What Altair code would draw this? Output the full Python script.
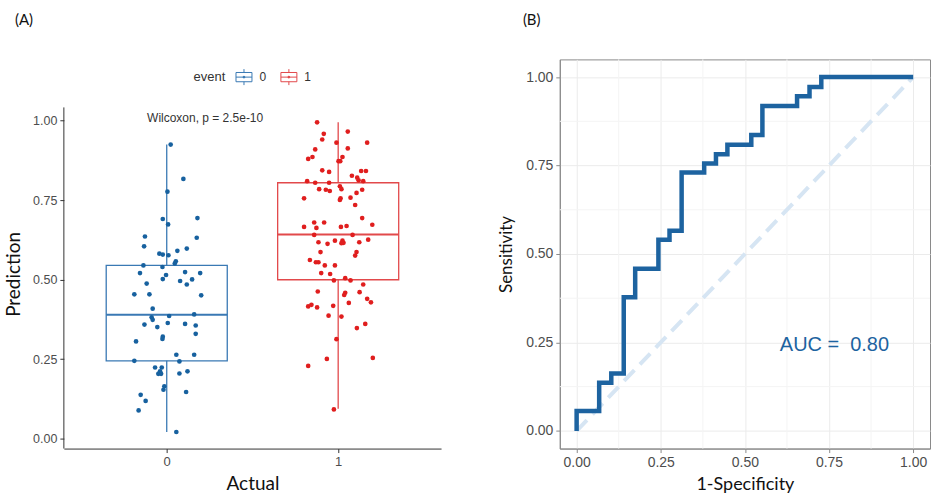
import altair as alt
import pandas as pd

# ---------------- Panel A data ----------------
pred0 = [0.925, 0.817, 0.777, 0.691, 0.674, 0.694, 0.636, 0.605, 0.632, 0.598,
         0.582, 0.579, 0.577, 0.591, 0.558, 0.551, 0.545, 0.540, 0.521, 0.515,
         0.524, 0.521, 0.501, 0.502, 0.496, 0.485, 0.488, 0.454, 0.454, 0.451,
         0.409, 0.382, 0.374, 0.386, 0.391, 0.359, 0.351, 0.364, 0.361, 0.356,
         0.330, 0.321, 0.314, 0.306, 0.264, 0.264, 0.245, 0.243, 0.224, 0.224,
         0.212, 0.204, 0.204, 0.205, 0.212, 0.165, 0.154, 0.147, 0.138, 0.119,
         0.089, 0.021]
jit0 = [0.023, 0.097, 0.004, -0.023, 0.008, 0.179, -0.127, -0.132, 0.175, 0.117,
        -0.043, -0.023, 0.010, 0.062, 0.053, 0.047, -0.136, -0.025, -0.156, -0.004,
        0.107, 0.195, 0.148, -0.023, 0.078, 0.117, -0.117, -0.189, -0.101, 0.201,
        -0.082, -0.088, -0.082, 0.014, 0.160, -0.130, -0.055, 0.006, 0.107, 0.169,
        0.169, -0.023, -0.025, -0.179, 0.056, 0.160, -0.189, 0.074, -0.068, -0.029,
        -0.039, -0.049, -0.033, 0.074, 0.121, -0.014, -0.019, 0.113, -0.152, -0.123,
        -0.164, 0.056]
pred1 = [0.995, 0.959, 0.966, 0.941, 0.931, 0.931, 0.910, 0.913, 0.880, 0.886,
         0.886, 0.873, 0.873, 0.844, 0.839, 0.842, 0.842, 0.827, 0.821, 0.813,
         0.810, 0.810, 0.805, 0.805, 0.794, 0.785, 0.785, 0.783, 0.779, 0.783,
         0.773, 0.756, 0.756, 0.751, 0.758, 0.735, 0.694, 0.680, 0.680, 0.666,
         0.663, 0.666, 0.669, 0.673, 0.641, 0.641, 0.626, 0.618, 0.613, 0.623,
         0.623, 0.616, 0.615, 0.618, 0.587, 0.587, 0.576, 0.562, 0.555, 0.555,
         0.545, 0.545, 0.521, 0.518, 0.498, 0.505, 0.498, 0.485, 0.463, 0.459,
         0.452, 0.461, 0.440, 0.429, 0.416, 0.421, 0.413, 0.418, 0.427, 0.387,
         0.384, 0.361, 0.348, 0.313, 0.251, 0.229, 0.254, 0.092]
jit1 = [-0.123, -0.084, 0.056, -0.093, -0.010, 0.169, -0.134, 0.056, -0.175, -0.150,
        0.025, 0.012, 0.002, -0.093, -0.053, 0.134, 0.162, 0.080, 0.111, 0.119,
        0.146, -0.181, -0.134, -0.053, 0.010, 0.019, -0.111, -0.072, -0.049, 0.140,
        0.107, -0.199, 0.014, 0.010, 0.072, 0.099, 0.140, -0.140, -0.082, -0.199,
        -0.127, 0.016, 0.049, 0.199, -0.140, 0.084, 0.175, -0.115, -0.062, -0.019,
        0.025, 0.031, 0.019, 0.123, -0.103, 0.107, 0.099, -0.165, -0.130, -0.115,
        -0.078, -0.019, -0.099, -0.047, -0.025, 0.041, 0.072, 0.146, -0.119, 0.041,
        0.035, 0.125, 0.169, 0.191, -0.175, -0.156, -0.123, -0.029, 0.062, -0.056,
        0.019, 0.158, 0.109, -0.010, -0.066, -0.175, 0.202, -0.025]

box_event = ["0", "1"]
box_pos = [0, 1]
box_lo = [0.021, 0.094]
box_q1 = [0.245, 0.500]
box_med = [0.390, 0.642]
box_q3 = [0.545, 0.805]
box_hi = [0.925, 0.995]

wilcox_text = ["Wilcoxon, p = 2.5e-10"]
panel_labels = ["(A)", "(B)"]

# ---------------- Panel B data ----------------
roc_fpr = [0.0, 0.0, 0.067, 0.103, 0.140, 0.174, 0.243, 0.276, 0.312, 0.379,
           0.414, 0.448, 0.519, 0.552, 0.655, 0.692, 0.727, 1.0]
roc_tpr = [0.0, 0.056, 0.136, 0.162, 0.378, 0.458, 0.540, 0.566, 0.730, 0.756,
           0.782, 0.809, 0.836, 0.918, 0.946, 0.972, 1.0, 1.0]
diag_x = [0.0, 1.0]
diag_y = [0.0, 1.0]
minor_breaks = [0.125, 0.375, 0.625, 0.875]
auc_text = ["AUC =\u00a0 0.80"]

BLUE_PT = "#17619f"
RED_PT = "#e01e1e"
BLUE_BOX = "#3a79b4"
RED_BOX = "#e2494b"
ROC_BLUE = "#1d63a0"
TICK_FONT = "Liberation Sans"
TITLE_FONT = "Lato"

pts = pd.DataFrame({
    "event": ["0"] * len(pred0) + ["1"] * len(pred1),
    "pos": [0] * len(pred0) + [1] * len(pred1),
    "jitter": jit0 + jit1,
    "prediction": pred0 + pred1,
})
boxes = pd.DataFrame({"event": box_event, "pos": box_pos, "lo": box_lo, "q1": box_q1,
                      "med": box_med, "q3": box_q3, "hi": box_hi})

HALF = 0.353
Y_LO, Y_HI = -0.031, 1.042
xscale = alt.Scale(domain=[-0.6, 1.6], nice=False, zero=False)
# the plot area extends above the panel so both panels share a top edge
yscale = alt.Scale(domain=[Y_LO, 1.193], nice=False, zero=False)

xaxis = alt.Axis(values=[0, 1], format="d", title="Actual", grid=False,
                 labelFont=TICK_FONT, labelFontSize=13, labelColor="#4d4d4d",
                 titleFont=TITLE_FONT, titleFontSize=19, titleFontWeight="normal",
                 titleColor="#111111", titlePadding=6, tickSize=4,
                 domainColor="#333333", tickColor="#333333", labelPadding=3)
yaxis = alt.Axis(values=[0, 0.25, 0.5, 0.75, 1.0], format=".2f", title="Prediction", grid=False,
                 labelFont=TICK_FONT, labelFontSize=12.5, labelColor="#4d4d4d",
                 titleFont=TITLE_FONT, titleFontSize=19, titleFontWeight="normal",
                 titleColor="#111111", titlePadding=9, tickSize=4, domain=False,
                 tickColor="#333333", labelPadding=3, titleY=215)

# box-plot key glyph drawn from open line segments (no area to fill) plus a centre dot
box_symbol = ("M-1,-0.58H1 M1,-0.58V0.58 M1,0.58H-1 M-1,0.58V-0.58 "
              "M0,-1V-0.58 M0,0.58V1 M-1,0H1 "
              "M-0.12,0A0.12,0.12,0,1,0,0.12,0A0.12,0.12,0,1,0,-0.12,0")
leg = alt.Legend(orient="none", legendX=130, legendY=9, direction="horizontal",
                 title="event", titleOrient="left", titleFont=TICK_FONT, titleFontSize=13,
                 titleFontWeight="normal", titleColor="#333333", titlePadding=10,
                 labelFont=TICK_FONT, labelFontSize=12, labelColor="#333333",
                 symbolType=box_symbol, symbolSize=256, symbolStrokeWidth=1,
                 symbolFillColor="transparent",
                 labelOffset=7, columnPadding=12)
box_scale = alt.Scale(domain=["0", "1"], range=[BLUE_BOX, RED_BOX])
box_color = alt.Color("event:N", scale=box_scale, legend=leg)

base_box = alt.Chart(boxes).transform_calculate(
    xl=f"datum.pos - {HALF}", xr=f"datum.pos + {HALF}")

box = base_box.mark_bar(filled=False, strokeWidth=1.3).encode(
    x=alt.X("xl:Q", scale=xscale, axis=xaxis), x2="xr:Q",
    y=alt.Y("q1:Q", scale=yscale, axis=yaxis), y2="q3:Q",
    color=box_color,
)
whisk_lo = base_box.mark_rule(strokeWidth=1.3).encode(
    x=alt.X("pos:Q", scale=xscale, axis=xaxis),
    y=alt.Y("lo:Q", scale=yscale, axis=yaxis),
    y2="q1:Q",
    color=box_color,
)
whisk_hi = base_box.mark_rule(strokeWidth=1.3).encode(
    x=alt.X("pos:Q", scale=xscale, axis=xaxis),
    y=alt.Y("q3:Q", scale=yscale, axis=yaxis),
    y2="hi:Q",
    color=box_color,
)
med = base_box.mark_rule(strokeWidth=2).encode(
    x=alt.X("xl:Q", scale=xscale, axis=xaxis), x2="xr:Q",
    y=alt.Y("med:Q", scale=yscale, axis=yaxis),
    color=box_color,
)
points = alt.Chart(pts).transform_calculate(
    xj="datum.pos + datum.jitter"
).mark_circle(size=22, opacity=1).encode(
    x=alt.X("xj:Q", scale=xscale, axis=xaxis),
    y=alt.Y("prediction:Q", scale=yscale, axis=yaxis),
    fill=alt.Fill("event:N", scale=alt.Scale(domain=["0", "1"], range=[BLUE_PT, RED_PT]),
                  legend=None),
)
yaxis_line = alt.Chart(pd.DataFrame({"v": [0]})).mark_rule(color="#333333", strokeWidth=1).encode(
    x=alt.datum(-0.6), y=alt.datum(Y_LO), y2=alt.datum(Y_HI))
wil = alt.Chart(pd.DataFrame({"t": wilcox_text})).mark_text(
    font=TICK_FONT, fontSize=12, color="#333333", align="center", baseline="middle"
).encode(x=alt.datum(0.224), y=alt.datum(1.008), text="t:N")
lab_a = alt.Chart(pd.DataFrame({"t": panel_labels[:1]})).mark_text(
    font=TITLE_FONT, fontSize=15, color="#111111", align="left", baseline="middle"
).encode(x=alt.value(-49), y=alt.value(-39.5), text="t:N")

left = alt.layer(box, whisk_lo, whisk_hi, med, points, yaxis_line, wil, lab_a).properties(
    width=378, height=390, view=alt.ViewBackground(stroke="transparent"))

# ---------------- Panel B ----------------
roc = pd.DataFrame({"fpr": roc_fpr, "tpr": roc_tpr, "ord": list(range(len(roc_fpr)))})
diag = pd.DataFrame({"fpr": diag_x, "tpr": diag_y})
minor = pd.DataFrame({"m": minor_breaks})

rx = alt.Scale(domain=[-0.05, 1.05], nice=False, zero=False)
ry = alt.Scale(domain=[-0.05, 1.05], nice=False, zero=False)
rxaxis = alt.Axis(values=[0, 0.25, 0.5, 0.75, 1.0], format=".2f", title="1-Specificity",
                  grid=True, gridColor="#ebebeb", gridWidth=1,
                  labelFont=TICK_FONT, labelFontSize=14, labelColor="#4d4d4d",
                  titleFont=TITLE_FONT, titleFontSize=18, titleFontWeight="normal",
                  titleColor="#111111", titlePadding=6, tickSize=4,
                  domainColor="#8a8a8a", tickColor="#8a8a8a", labelPadding=3)
ryaxis = alt.Axis(values=[0, 0.25, 0.5, 0.75, 1.0], format=".2f", title="Sensitivity",
                  grid=True, gridColor="#ebebeb", gridWidth=1,
                  labelFont=TICK_FONT, labelFontSize=14, labelColor="#4d4d4d",
                  titleFont=TITLE_FONT, titleFontSize=17, titleFontWeight="normal",
                  titleColor="#111111", titlePadding=10, tickSize=4,
                  domainColor="#8a8a8a", tickColor="#8a8a8a", labelPadding=3)

mgx = alt.Chart(minor).mark_rule(color="#f4f4f4", strokeWidth=1).encode(
    x=alt.X("m:Q", scale=rx, axis=rxaxis))
mgy = alt.Chart(minor).mark_rule(color="#f4f4f4", strokeWidth=1).encode(
    y=alt.Y("m:Q", scale=ry, axis=ryaxis))
dline = alt.Chart(diag).mark_line(color="#d6e5f3", strokeWidth=4, strokeDash=[15, 8]).encode(
    x=alt.X("fpr:Q", scale=rx, axis=rxaxis), y=alt.Y("tpr:Q", scale=ry, axis=ryaxis))
rline = alt.Chart(roc).mark_line(color=ROC_BLUE, strokeWidth=4.5, interpolate="step-after").encode(
    x=alt.X("fpr:Q", scale=rx, axis=rxaxis), y=alt.Y("tpr:Q", scale=ry, axis=ryaxis),
    order="ord:Q")
auc = alt.Chart(pd.DataFrame({"t": auc_text})).mark_text(
    font=TICK_FONT, fontSize=20, color=ROC_BLUE, align="center", baseline="middle"
).encode(x=alt.datum(0.766), y=alt.datum(0.244), text="t:N")
lab_b = alt.Chart(pd.DataFrame({"t": panel_labels[1:]})).mark_text(
    font=TITLE_FONT, fontSize=15, color="#111111", align="left", baseline="middle"
).encode(x=alt.value(-37), y=alt.value(-39.5), text="t:N")

right = alt.layer(mgx, mgy, dline, rline, auc, lab_b).properties(
    width=371, height=390, view=alt.ViewBackground(stroke="#8a8a8a", strokeWidth=1))

chart = alt.hconcat(left, right, spacing=55).properties(
    padding={"left": 4, "top": 12, "right": 0, "bottom": 0},
    background="white",
).configure_view(stroke="transparent")

chart.save("out.html", embed_options={"renderer": "svg", "actions": False})
